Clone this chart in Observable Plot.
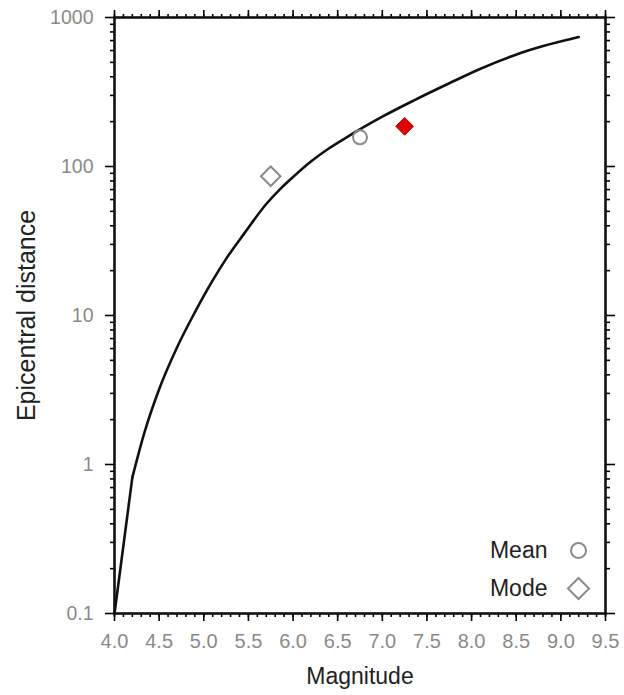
<!DOCTYPE html>
<html>
<head>
<meta charset="utf-8">
<script src="https://cdn.jsdelivr.net/npm/d3@7"></script>
<script src="https://cdn.jsdelivr.net/npm/@observablehq/plot@0.6"></script>
<style>
  html, body { margin: 0; padding: 0; background: #fff; }
  #chart svg { display: block; }
</style>
</head>
<body>
<div id="chart"></div>
<script>
// Relation between magnitude and epicentral distance (curve)
const curveMagnitude = [4.0, 4.2, 4.33, 4.5, 4.7, 4.9, 5.1, 5.25, 5.45, 5.7, 5.85, 6.0, 6.2, 6.4, 6.6, 6.8, 7.0, 7.35, 7.75, 8.1, 8.45, 8.65, 9.2];
const curveDistance  = [0.1, 0.82, 1.6, 3.2, 6.1, 10.5, 17.2, 24, 35.3, 56, 70, 85, 108, 132, 157, 185, 216, 277, 362, 453, 550, 605, 740];

// Summary points
const pointLabels    = ["Mean", "Mode", "Observed"];
const pointMagnitude = [6.75, 5.75, 7.25];
const pointDistance  = [157, 86, 186];

// Axis ticks
const xMajorTicks = d3.range(4.0, 9.51, 0.5).map(v => +v.toFixed(1));
const xMinorTicks = d3.range(4.0, 9.51, 0.1).map(v => +v.toFixed(1));
const yMajorTicks = [0.1, 1, 10, 100, 1000];
const yMinorTicks = [0.1, 1, 10, 100].flatMap(d => d3.range(2, 10).map(k => +(d * k).toPrecision(3)));

// Legend entries
const legendLabels = ["Mean", "Mode"];

const curve = curveMagnitude.map((m, i) => ({m, d: curveDistance[i]}));
const points = pointLabels.map((label, i) => ({label, m: pointMagnitude[i], d: pointDistance[i]}));

const grey = "#8a8a8a";
const font = "Liberation Sans, Arial, Helvetica, sans-serif";
const noLabel = () => "";

const chart = Plot.plot({
  width: 624,
  height: 695,
  marginLeft: 114,
  marginRight: 19,
  marginTop: 17,
  marginBottom: 82,
  style: {fontFamily: font, background: "#fff"},
  x: {domain: [4.0, 9.5]},
  y: {type: "log", domain: [0.1, 1000]},
  marks: [
    // tick marks on all four sides (labels drawn separately below)
    Plot.axisX({anchor: "bottom", ticks: xMinorTicks, tickSize: 4, tickFormat: noLabel, strokeWidth: 1.6, label: null}),
    Plot.axisX({anchor: "bottom", ticks: xMajorTicks, tickSize: 8, tickFormat: noLabel, strokeWidth: 1.6, label: null}),
    Plot.axisX({anchor: "top", ticks: xMinorTicks, tickSize: 4, tickFormat: noLabel, strokeWidth: 1.6, label: null}),
    Plot.axisX({anchor: "top", ticks: xMajorTicks, tickSize: 8, tickFormat: noLabel, strokeWidth: 1.6, label: null}),
    Plot.axisY({anchor: "left", ticks: yMinorTicks, tickSize: 4, tickFormat: noLabel, strokeWidth: 1.6, label: null}),
    Plot.axisY({anchor: "left", ticks: yMajorTicks, tickSize: 9, tickFormat: noLabel, strokeWidth: 1.6, label: null}),
    Plot.axisY({anchor: "right", ticks: yMinorTicks, tickSize: 4, tickFormat: noLabel, strokeWidth: 1.6, label: null}),
    Plot.axisY({anchor: "right", ticks: yMajorTicks, tickSize: 9, tickFormat: noLabel, strokeWidth: 1.6, label: null}),
    // tick labels
    Plot.text(xMajorTicks, {x: d => d, text: d => d.toFixed(1), frameAnchor: "bottom", dy: 28, lineAnchor: "middle", fontSize: 20, fill: grey}),
    Plot.text(yMajorTicks, {y: d => d, text: d => String(d), frameAnchor: "left", dx: -21, textAnchor: "end", lineAnchor: "middle", fontSize: 19.5, fill: grey}),
    // axis titles
    Plot.text(["Magnitude"], {frameAnchor: "bottom", dy: 63, lineAnchor: "middle", fontSize: 23, fill: "#222"}),
    Plot.text(["Epicentral distance"], {frameAnchor: "left", rotate: -90, dx: -88, textAnchor: "middle", lineAnchor: "middle", fontSize: 25, fill: "#222"}),
    // curve: straight rise from M4.0, then a smooth bend
    Plot.line(curve.slice(0, 2), {x: "m", y: "d", stroke: "#111", strokeWidth: 2.6}),
    Plot.line(curve.slice(1), {x: "m", y: "d", curve: "monotone-x", stroke: "#111", strokeWidth: 2.6}),
    // points
    Plot.dot(points.filter(p => p.label === "Mean"), {x: "m", y: "d", r: 7, stroke: grey, strokeWidth: 2, fill: "none"}),
    Plot.dot(points.filter(p => p.label === "Mode"), {x: "m", y: "d", symbol: "diamond2", r: 8.8, stroke: grey, strokeWidth: 2, fill: "none"}),
    Plot.dot(points.filter(p => p.label === "Observed"), {x: "m", y: "d", symbol: "diamond2", r: 8, stroke: "#9b1010", strokeWidth: 1, fill: "#e00000"}),
    // legend
    Plot.text([legendLabels[0]], {frameAnchor: "bottom-right", dx: -58, dy: -63, textAnchor: "end", lineAnchor: "middle", fontSize: 23, fill: "#222"}),
    Plot.text([legendLabels[1]], {frameAnchor: "bottom-right", dx: -58, dy: -25, textAnchor: "end", lineAnchor: "middle", fontSize: 23, fill: "#222"}),
    Plot.dot([legendLabels[0]], {frameAnchor: "bottom-right", dx: -27, dy: -63, r: 7.5, stroke: grey, strokeWidth: 2, fill: "none"}),
    Plot.dot([legendLabels[1]], {frameAnchor: "bottom-right", dx: -27, dy: -25, symbol: "diamond2", r: 9.5, stroke: grey, strokeWidth: 2, fill: "none"}),
    // plot frame
    Plot.frame({stroke: "#111", strokeWidth: 2.6})
  ]
});

document.getElementById("chart").append(chart);
</script>
</body>
</html>
